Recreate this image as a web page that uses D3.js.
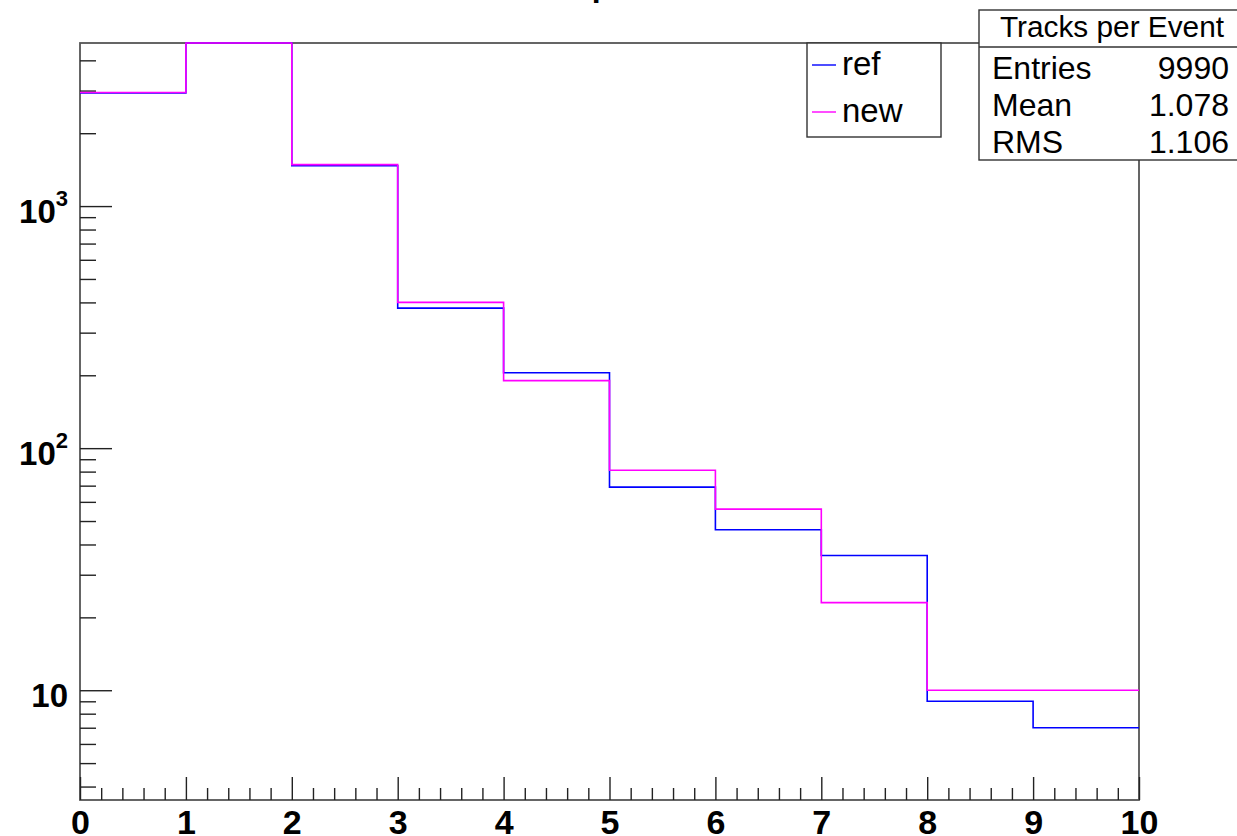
<!DOCTYPE html>
<html>
<head>
<meta charset="utf-8">
<script src="https://cdn.jsdelivr.net/npm/d3@7"></script>
<style>
  body { margin: 0; background: white; }
  svg { display: block; font-family: 'Liberation Sans', Arial, sans-serif; }
</style>
</head>
<body>
<script>
// bins of the histogram (lower edges, unit width)
const binEdges = [0, 1, 2, 3, 4, 5, 6, 7, 8, 9, 10];
const refCounts = [2935, 4868, 1468, 379, 205, 69, 46, 36, 9, 7];
const newCounts = [2945, 4771, 1483, 400, 190, 81, 56, 23, 10, 10];

const xMajorTicks = [0, 1, 2, 3, 4, 5, 6, 7, 8, 9, 10];
const yMajorTicks = [10, 100, 1000];
const yMinorTicks = [4, 5, 6, 7, 8, 9, 20, 30, 40, 50, 60, 70, 80, 90,
  200, 300, 400, 500, 600, 700, 800, 900, 2000, 3000, 4000];
const yLabels = { 10: ['10', ''], 100: ['10', '2'], 1000: ['10', '3'] };

const statsTitle = 'Tracks per Event';
const statsRows = [['Entries', '9990'], ['Mean', '1.078'], ['RMS', '1.106']];
const legendItems = [['ref', '#0000ff'], ['new', '#ff00ff']];

// chart dimensions
const svgWidth = 1237;
const svgHeight = 836;
const frameLeft = 80;
const frameRight = 1139;
const frameTop = 43;
const frameBottom = 800;

const xScale = d3.scaleLinear().domain([0, 10]).range([frameLeft, frameRight]);
const yScale = d3.scaleLog().domain([3.52, 4717]).range([frameBottom, frameTop]).clamp(true);

const svg = d3.select('body').append('svg')
  .attr('width', svgWidth)
  .attr('height', svgHeight);

// title, mostly off the top of the picture
svg.append('text')
  .attr('x', (frameLeft + frameRight) / 2)
  .attr('y', -4)
  .attr('text-anchor', 'middle')
  .attr('font-weight', 'bold')
  .attr('font-size', 32)
  .text(statsTitle);

// frame
svg.append('rect')
  .attr('x', frameLeft).attr('y', frameTop)
  .attr('width', frameRight - frameLeft).attr('height', frameBottom - frameTop)
  .attr('fill', 'none')
  .attr('stroke', '#555')
  .attr('stroke-width', 1.8);

// x axis
const xMinor = d3.range(0, 50).map((i) => i * 0.2).filter((v) => Math.abs(v - Math.round(v)) > 1e-6);
svg.append('g')
  .attr('transform', `translate(0,${frameBottom})`)
  .call(d3.axisBottom(xScale).tickValues(xMinor).tickSize(-12).tickFormat(''))
  .call((g) => g.select('.domain').remove());
svg.append('g')
  .attr('transform', `translate(0,${frameBottom})`)
  .call(d3.axisBottom(xScale).tickValues(xMajorTicks).tickSize(-23).tickFormat(d3.format('d')))
  .call((g) => g.select('.domain').remove())
  .call((g) => g.selectAll('.tick text')
    .attr('font-size', 34).attr('font-weight', 'bold').attr('fill', 'black')
    .attr('font-family', "'Liberation Sans', Arial, sans-serif")
    .attr('y', 34).attr('dy', 0));

// y axis
svg.append('g')
  .attr('transform', `translate(${frameLeft},0)`)
  .call(d3.axisLeft(yScale).tickValues(yMinorTicks).tickSize(-16).tickFormat(''))
  .call((g) => g.select('.domain').remove());
svg.append('g')
  .attr('transform', `translate(${frameLeft},0)`)
  .call(d3.axisLeft(yScale).tickValues(yMajorTicks).tickSize(-32).tickPadding(12).tickFormat(''))
  .call((g) => g.select('.domain').remove())
  .call((g) => g.selectAll('.tick').each(function (d) {
    const [base, exp] = yLabels[d];
    const t = d3.select(this).select('text')
      .attr('font-size', 33).attr('font-weight', 'bold').attr('fill', 'black')
      .attr('font-family', "'Liberation Sans', Arial, sans-serif")
      .attr('dy', 16);
    t.append('tspan').text(base);
    if (exp) {
      t.append('tspan').attr('font-size', 22).attr('dy', -17).text(exp);
    }
  }));
svg.selectAll('.tick line').attr('stroke', '#222').attr('stroke-width', 1.4);

// step outline of a histogram
function stepPath(counts) {
  const pts = [];
  counts.forEach((c, i) => {
    pts.push([xScale(binEdges[i]), yScale(c)]);
    pts.push([xScale(binEdges[i + 1]), yScale(c)]);
  });
  return d3.line()(pts);
}

const hists = svg.append('g');
[[refCounts, '#0000ff'], [newCounts, '#ff00ff']].forEach(([counts, colour]) => {
  hists.append('path')
    .attr('d', stepPath(counts))
    .attr('fill', 'none')
    .attr('stroke', colour)
    .attr('stroke-width', 1.6);
});

// legend
const legend = svg.append('g');
legend.append('rect')
  .attr('x', 807).attr('y', 43).attr('width', 134).attr('height', 94)
  .attr('fill', 'white').attr('stroke', '#333').attr('stroke-width', 1.4);
legendItems.forEach(([name, colour], i) => {
  const cy = 65 + i * 47;
  legend.append('line')
    .attr('x1', 812).attr('x2', 836).attr('y1', cy).attr('y2', cy)
    .attr('stroke', colour).attr('stroke-width', 1.4);
  legend.append('text')
    .attr('x', 842).attr('y', cy + 10)
    .attr('font-size', 33)
    .text(name);
});

// stats box
const stats = svg.append('g');
stats.append('rect')
  .attr('x', 979).attr('y', 10).attr('width', 270).attr('height', 150)
  .attr('fill', 'white').attr('stroke', '#333').attr('stroke-width', 1.4);
stats.append('line')
  .attr('x1', 979).attr('x2', 1249).attr('y1', 47).attr('y2', 47)
  .attr('stroke', '#333').attr('stroke-width', 1.4);
stats.append('text')
  .attr('x', 1000).attr('y', 37)
  .attr('font-size', 30)
  .attr('textLength', 224)
  .attr('lengthAdjust', 'spacingAndGlyphs')
  .text(statsTitle);
statsRows.forEach(([label, value], i) => {
  const y = 79 + i * 37;
  stats.append('text').attr('x', 992).attr('y', y).attr('font-size', 32).text(label);
  stats.append('text').attr('x', 1229).attr('y', y).attr('font-size', 32)
    .attr('text-anchor', 'end').text(value);
});
</script>
</body>
</html>
